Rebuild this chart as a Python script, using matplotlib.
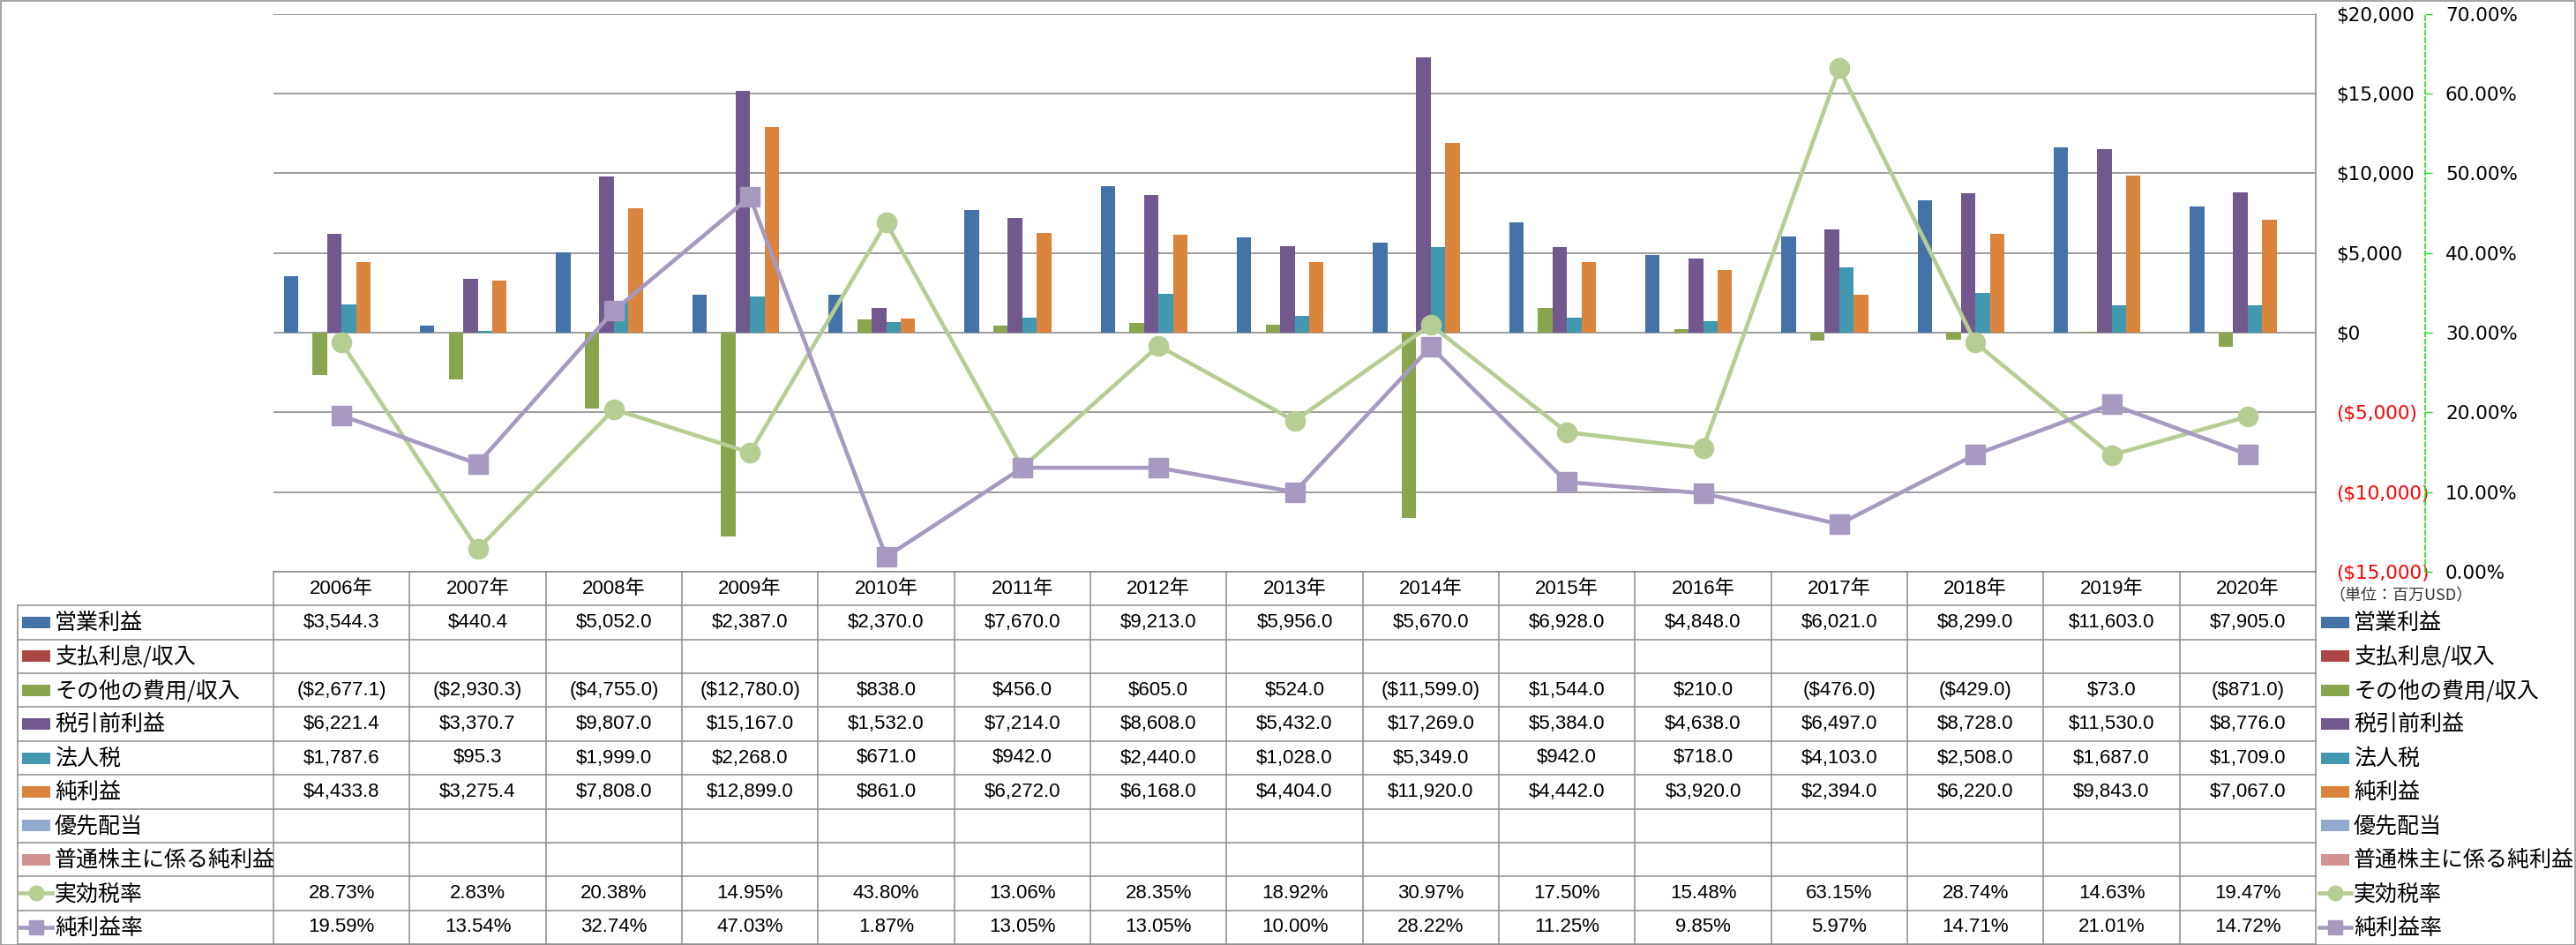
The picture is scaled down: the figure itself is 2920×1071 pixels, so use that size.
import numpy as np
import matplotlib
matplotlib.use('Agg')
import matplotlib.pyplot as plt
from matplotlib.lines import Line2D
from matplotlib.patches import Rectangle

# フォント（日本語対応）
plt.rcParams['font.family'] = ['DejaVu Sans', 'Noto Sans CJK JP']

years = ['2006年', '2007年', '2008年', '2009年', '2010年', '2011年', '2012年', '2013年',
         '2014年', '2015年', '2016年', '2017年', '2018年', '2019年', '2020年']

op_income = [3544.3, 440.4, 5052.0, 2387.0, 2370.0, 7670.0, 9213.0, 5956.0,
             5670.0, 6928.0, 4848.0, 6021.0, 8299.0, 11603.0, 7905.0]
interest = [None] * 15
other = [-2677.1, -2930.3, -4755.0, -12780.0, 838.0, 456.0, 605.0, 524.0,
         -11599.0, 1544.0, 210.0, -476.0, -429.0, 73.0, -871.0]
pretax = [6221.4, 3370.7, 9807.0, 15167.0, 1532.0, 7214.0, 8608.0, 5432.0,
          17269.0, 5384.0, 4638.0, 6497.0, 8728.0, 11530.0, 8776.0]
tax = [1787.6, 95.3, 1999.0, 2268.0, 671.0, 942.0, 2440.0, 1028.0,
       5349.0, 942.0, 718.0, 4103.0, 2508.0, 1687.0, 1709.0]
net = [4433.8, 3275.4, 7808.0, 12899.0, 861.0, 6272.0, 6168.0, 4404.0,
       11920.0, 4442.0, 3920.0, 2394.0, 6220.0, 9843.0, 7067.0]
pref_div = [None] * 15
net_common = [None] * 15

tax_rate = [28.73, 2.83, 20.38, 14.95, 43.80, 13.06, 28.35, 18.92,
            30.97, 17.50, 15.48, 63.15, 28.74, 14.63, 19.47]
net_margin = [19.59, 13.54, 32.74, 47.03, 1.87, 13.05, 13.05, 10.00,
              28.22, 11.25, 9.85, 5.97, 14.71, 21.01, 14.72]

bar_names = ['営業利益', '支払利息/収入', 'その他の費用/収入', '税引前利益', '法人税',
             '純利益', '優先配当', '普通株主に係る純利益']
bar_data = [op_income, interest, other, pretax, tax, net, pref_div, net_common]
bar_colors = ['#4572A7', '#AA4643', '#89A54E', '#71588F', '#4198AF',
              '#DB843D', '#93A9CF', '#D19392']
line_names = ['実効税率', '純利益率']
line_data = [tax_rate, net_margin]
line_colors = ['#B6CD94', '#A799BF']
line_markers = ['o', 's']

grid_gray = '#8C8C8C'
W, H = 2920, 1071
L, R, T, B = 310, 2625, 15.6, 648
BOT = 1070

fig = plt.figure(figsize=(W / 100, H / 100), dpi=100)
fig.patch.set_facecolor('white')

# ---- メインのグラフ ----
ax = fig.add_axes([L / W, 1 - B / H, (R - L) / W, (B - T) / H])
n = len(years)
x = np.arange(n)
nb = len(bar_data)
bw = 0.85 / nb
for k, (vals, col) in enumerate(zip(bar_data, bar_colors)):
    v = np.array([np.nan if a is None else a for a in vals], dtype=float)
    ax.bar(x + (k - (nb - 1) / 2) * bw, v, width=bw, color=col, zorder=2)

# ---- 第2軸（％） ----
ax2 = ax.twinx()
for vals, col, mk in zip(line_data, line_colors, line_markers):
    ax2.plot(x, np.array(vals) / 100, color=col, linewidth=3.3, marker=mk,
             markersize=16, markerfacecolor=col, markeredgecolor=col, zorder=3)
ax2.set_ylim(0, 0.70)
pt = np.arange(0, 0.701, 0.1)
ax2.set_yticks(pt)
ax2.set_yticklabels(['{:.2f}%'.format(p * 100) for p in pt])
for s in ['left', 'top', 'bottom']:
    ax2.spines[s].set_visible(False)
ax2.spines['right'].set_position(('outward', (2749 - R) * 0.72))
ax2.spines['right'].set_color('#22DD22')
ax2.spines['right'].set_linestyle((0, (3, 2)))
ax2.spines['right'].set_linewidth(1.2)
ax2.tick_params(axis='y', length=6, width=1, color='#22DD22', pad=10.5, labelsize=15.5)
ax2.set_xlim(-0.5, n - 0.5)

# 第1軸の設定（twinxの後で右側へ）
ax.set_xlim(-0.5, n - 0.5)
ax.set_ylim(-15000, 20000)
yt = np.arange(-15000, 20001, 5000)
ax.set_yticks(yt)
labels = []
for v in yt:
    if v < 0:
        labels.append('(${:,.0f})'.format(-v))
    else:
        labels.append('${:,.0f}'.format(v))
ax.set_yticklabels(labels)
for t, v in zip(ax.get_yticklabels(), yt):
    t.set_color('red' if v < 0 else 'black')
ax.yaxis.tick_right()
ax.yaxis.set_label_position('right')
ax.tick_params(axis='y', which='both', left=False, labelleft=False, right=False,
               labelright=True, length=0, pad=16.5, labelsize=15.5)
for t, v in zip(ax.yaxis.get_majorticklabels(), yt):
    t.set_color('red' if v < 0 else 'black')
ax.set_xticks([])
ax.grid(axis='y', color=grid_gray, linewidth=1.2, zorder=0)
ax.set_axisbelow(True)
for s in ['left', 'top', 'bottom']:
    ax.spines[s].set_visible(False)
ax.spines['right'].set_color(grid_gray)
ax.spines['right'].set_linewidth(1.2)

# ---- データテーブル ----
tab = fig.add_axes([L / W, 1 - BOT / H, (R - L) / W, (BOT - B) / H])
tab.set_xlim(-0.5, n - 0.5)
tab.set_ylim(11, 0)
tab.axis('off')
unit = (R - L) / n
rowh = (BOT - B) / 11


def tx(px):
    return -0.5 + (px - L) / unit


num_font = ['Liberation Sans', 'Noto Sans CJK JP']
cjk_font = ['Noto Sans CJK JP', 'DejaVu Sans']
lkw = dict(color=grid_gray, linewidth=1.1, clip_on=False)

tab.plot([-0.5, n - 0.5], [0, 0], **lkw)
for r in range(1, 12):
    tab.plot([tx(20), n - 0.5], [r, r], **lkw)
for k in range(n + 1):
    tab.plot([k - 0.5, k - 0.5], [0, 11], **lkw)
tab.plot([tx(20), tx(20)], [1, 11], **lkw)

for i, yr in enumerate(years):
    tab.text(i, 0.5, yr, ha='center', va='center', fontsize=16, family=num_font)


def money(v):
    if v is None:
        return ''
    if v < 0:
        return '(${:,.1f})'.format(-v)
    return '${:,.1f}'.format(v)


rows = []
for name, vals, col in zip(bar_names, bar_data, bar_colors):
    rows.append((name, [money(v) for v in vals], col, None))
for name, vals, col, mk in zip(line_names, line_data, line_colors, line_markers):
    rows.append((name, ['{:.2f}%'.format(v) for v in vals], col, mk))

key_h = 13 / rowh
for r, (name, cells, col, mk) in enumerate(rows, start=1):
    yc = r + 0.5
    for i, c in enumerate(cells):
        tab.text(i, yc, c, ha='center', va='center', fontsize=16, family=num_font)
    for kx0, kx1, tpos in [(tx(25), tx(57), tx(62)), (tx(2631), tx(2663), tx(2668))]:
        if mk is None:
            tab.add_patch(Rectangle((kx0, yc - key_h / 2), kx1 - kx0, key_h,
                                    facecolor=col, edgecolor='none', clip_on=False))
        else:
            tab.add_line(Line2D([kx0 - 0.015, kx1 + 0.015], [yc, yc], color=col,
                                linewidth=3.3, clip_on=False))
            tab.add_line(Line2D([(kx0 + kx1) / 2], [yc], color=col, marker=mk,
                                markersize=12, linestyle='none', clip_on=False))
        tab.text(tpos, yc + 0.02, name, ha='left', va='center', fontsize=18,
                 family=cjk_font)

tab.text(tx(2640), (675 - B) / rowh, '（単位：百万USD）', ha='left', va='center',
         fontsize=13, color='#333333', family=cjk_font)

# 外枠
fig.add_artist(Rectangle((0.5 / W, 0.5 / H), (W - 1.5) / W, (H - 1.5) / H,
                         transform=fig.transFigure, fill=False,
                         edgecolor=grid_gray, linewidth=1.1))

fig.savefig('out.png', dpi=100)
